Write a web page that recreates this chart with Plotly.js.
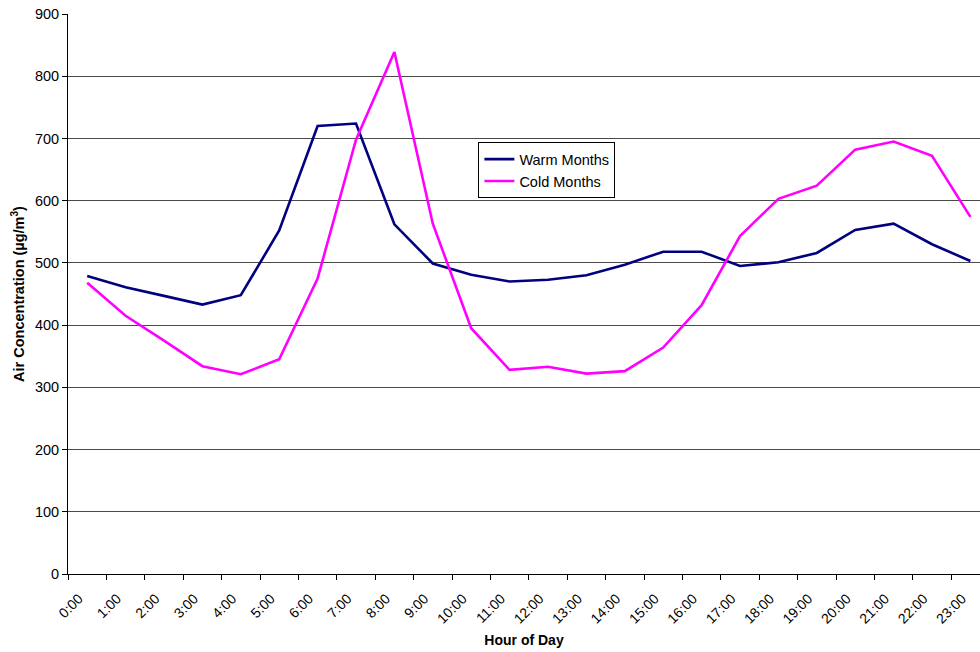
<!DOCTYPE html>
<html>
<head>
<meta charset="utf-8">
<script src="https://cdn.plot.ly/plotly-3.0.1.min.js"></script>
<style>html,body{margin:0;padding:0;background:#fff;}#chart{width:980px;height:652px;}</style>
</head>
<body>
<div id="chart"></div>
<script>
// Hour positions (mid-hour points)
const hours = [0.5,1.5,2.5,3.5,4.5,5.5,6.5,7.5,8.5,9.5,10.5,11.5,12.5,13.5,14.5,15.5,16.5,17.5,18.5,19.5,20.5,21.5,22.5,23.5];
const warmMonths = [479,461,447,433,448,552,720,724,562,499,481,470,473,480,497,518,518,495,501,516,553,563,530,503];
const coldMonths = [468,415,375,334,321,345,475,698,839,563,395,328,333,322,326,364,432,543,603,624,682,695,672,574];
const tickValues = [0,1,2,3,4,5,6,7,8,9,10,11,12,13,14,15,16,17,18,19,20,21,22,23];
const tickLabels = ["0:00","1:00","2:00","3:00","4:00","5:00","6:00","7:00","8:00","9:00","10:00","11:00","12:00","13:00","14:00","15:00","16:00","17:00","18:00","19:00","20:00","21:00","22:00","23:00"];

// rotated labels sit slightly right of their tick, as in the original
const labelOffset = 0.28;
const labelPositions = tickValues.map(v => v + labelOffset);

const font = "Liberation Sans, Arial, sans-serif";
const traces = [
  {x: hours, y: warmMonths, type: 'scatter', mode: 'lines', name: 'Warm Months',
   line: {color: '#000080', width: 2.6}},
  {x: hours, y: coldMonths, type: 'scatter', mode: 'lines', name: 'Cold Months',
   line: {color: '#FF00FF', width: 2.6}}
];
const xRange = [0, 23.75];
const layout = {
  width: 980, height: 652,
  margin: {l: 68, r: 0, t: 14, b: 78},
  paper_bgcolor: '#fff', plot_bgcolor: '#fff',
  font: {family: font, size: 14, color: '#000'},
  showlegend: true,
  legend: {x: 0.45, y: 0.771, xanchor: 'left', yanchor: 'top',
    bgcolor: '#fff', bordercolor: '#000', borderwidth: 1,
    font: {family: font, size: 14.5, color: '#000'}, itemwidth: 30, tracegroupgap: 0},
  xaxis: {
    range: xRange, tickmode: 'array', tickvals: labelPositions, ticktext: tickLabels,
    tickangle: -45, ticks: 'outside', ticklen: 10, tickcolor: 'rgba(0,0,0,0)',
    showline: true, linecolor: '#000', linewidth: 1, showgrid: false, zeroline: false,
    tickfont: {family: font, size: 14},
    title: {text: 'Hour of Day', font: {family: font, size: 14, weight: 'bold'}, standoff: 9}
  },
  xaxis2: {
    overlaying: 'x', anchor: 'y', side: 'bottom', range: xRange,
    tickmode: 'array', tickvals: tickValues, ticks: 'outside', ticklen: 5, tickcolor: '#000',
    showticklabels: false, showline: false, showgrid: false, zeroline: false
  },
  yaxis: {
    range: [0, 900], dtick: 100, ticks: 'outside', ticklen: 5, tickcolor: '#000',
    showline: true, linecolor: '#000', linewidth: 1,
    showgrid: true, gridcolor: '#4a4a4a', gridwidth: 1, zeroline: false,
    tickfont: {family: font, size: 14.5},
    title: {text: 'Air Concentration (µg/m<sup>3</sup>)', font: {family: font, size: 14.5, weight: 'bold'}, standoff: 6}
  }
};
// invisible helper trace so the tick-only axis is drawn
traces.push({x: xRange, y: [null, null], xaxis: 'x2', yaxis: 'y', type: 'scatter', mode: 'lines',
  showlegend: false, hoverinfo: 'skip'});
Plotly.newPlot('chart', traces, layout, {displayModeBar: false, staticPlot: true});
</script>
</body>
</html>
